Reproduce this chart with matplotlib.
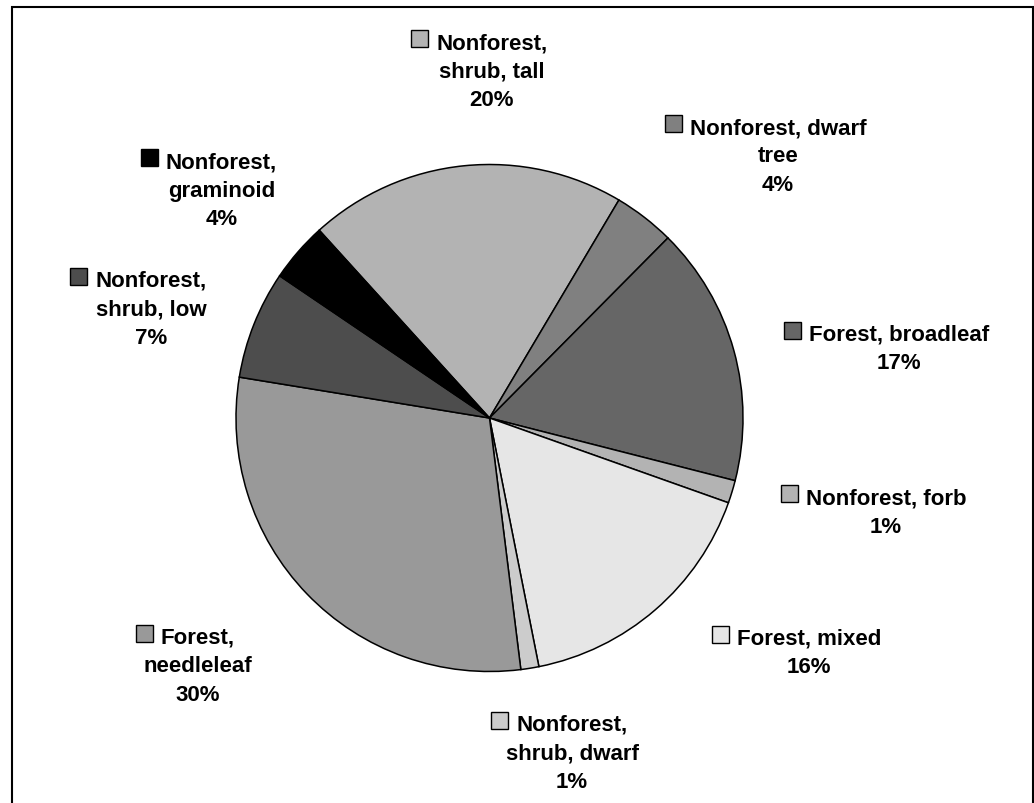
import matplotlib
matplotlib.use("Agg")
import matplotlib.pyplot as plt
from matplotlib.patches import Rectangle

# Land cover classes, in clockwise order around the pie
categories = [
    "Nonforest, shrub, tall",
    "Nonforest, dwarf tree",
    "Forest, broadleaf",
    "Nonforest, forb",
    "Forest, mixed",
    "Nonforest, shrub, dwarf",
    "Forest, needleleaf",
    "Nonforest, shrub, low",
    "Nonforest, graminoid",
]
# Category names as they are wrapped in the labels
label_lines = [
    ["Nonforest,", "shrub, tall"],
    ["Nonforest, dwarf", "tree"],
    ["Forest, broadleaf"],
    ["Nonforest, forb"],
    ["Forest, mixed"],
    ["Nonforest,", "shrub, dwarf"],
    ["Forest,", "needleleaf"],
    ["Nonforest,", "shrub, low"],
    ["Nonforest,", "graminoid"],
]
# Share of area (%)
percent = [20.25, 3.9, 16.55, 1.45, 16.45, 1.15, 29.55, 6.9, 3.8]

colors = ["#b3b3b3", "#808080", "#666666", "#b3b3b3", "#e6e6e6",
          "#cccccc", "#999999", "#4d4d4d", "#000000"]

# Label anchors in pixels: centre x of the text block, baseline of first line
label_pos = [(492, 49.3), (778, 134), (899, 340.7), (886, 504.3), (809, 645),
             (572, 730.7), (198, 644), (151, 286.7), (221.5, 168.3)]

W, H = 1034, 804
fig = plt.figure(figsize=(W / 100, H / 100), dpi=100)
fig.patch.set_facecolor("white")

# Pie placed as a square box in pixels
cx, cy, r = 489.5, 419.0, 253.5
ax = fig.add_axes([(cx - r) / W, 1 - (cy + r) / H, 2 * r / W, 2 * r / H])
ax.pie(percent, colors=colors, startangle=132.2, counterclock=False,
       radius=1.0,
       wedgeprops=dict(edgecolor="black", linewidth=1.1, clip_on=False))
ax.set_xlim(-1, 1)
ax.set_ylim(-1, 1)
ax.axis("off")

font = dict(family=["Liberation Sans", "DejaVu Sans"], fontsize=16,
            fontweight="bold", color="black")
line_gap = 28.5

first_lines = []
for lines, val, (px, py) in zip(label_lines, percent, label_pos):
    all_lines = lines + [f"{val:.0f}%"]
    for i, s in enumerate(all_lines):
        t = fig.text(px / W, 1 - (py + i * line_gap) / H, s,
                     ha="center", va="baseline", **font)
        if i == 0:
            first_lines.append((t, py))

fig.canvas.draw()
renderer = fig.canvas.get_renderer()
box = 17
for (t, py), col in zip(first_lines, colors):
    bb = t.get_window_extent(renderer)
    x0 = bb.x0 - 8 - box
    y0 = (H - py) + 1
    fig.add_artist(Rectangle((x0 / W, y0 / H), box / W, box / H,
                             transform=fig.transFigure, facecolor=col,
                             edgecolor="black", linewidth=1.0))

# Chart frame (bottom edge runs past the image)
fig.add_artist(Rectangle((11.5 / W, -0.02), (1033 - 11.5) / W, 1 - 8 / H + 0.02,
                         transform=fig.transFigure, fill=False,
                         edgecolor="black", linewidth=1.5))

fig.savefig("out.png", dpi=100, facecolor="white")
